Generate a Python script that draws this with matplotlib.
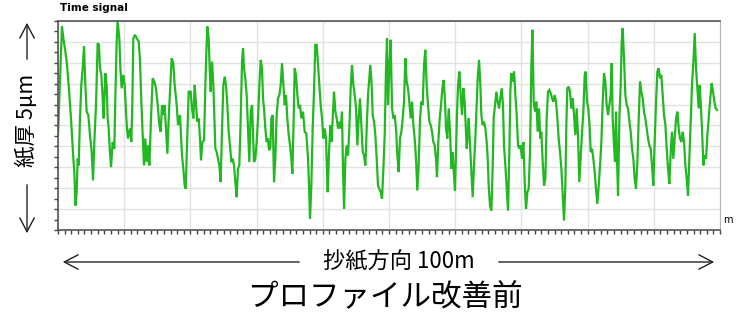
import numpy as np
import matplotlib
matplotlib.use("Agg")
import matplotlib.pyplot as plt
from matplotlib.patches import FancyArrowPatch
from matplotlib.ticker import MultipleLocator, NullFormatter

plt.rcParams['font.family'] = ['Noto Sans CJK JP', 'DejaVu Sans']

# paper thickness profile (0..10 = full 5um scale), distance in m
distance_m = [
    0.0, 0.6, 0.81, 1.11, 1.31, 1.61, 1.96, 2.32, 2.47, 2.62, 2.82, 2.97, 3.12, 3.32, 3.52, 3.73,
    3.93, 4.13, 4.33, 4.58, 4.83, 5.09, 5.29, 5.49, 5.74, 5.99, 6.19, 6.34, 6.55, 6.75, 6.90, 7.15,
    7.35, 7.50, 7.65, 7.85, 8.01, 8.26, 8.51, 8.66, 8.86, 9.01, 9.26, 9.42, 9.62, 9.87, 10.07, 10.27,
    10.42, 10.57, 10.88, 11.08, 11.23, 11.38, 11.63, 11.88, 12.19, 12.39, 12.59, 12.79, 12.99, 13.19,
    13.39, 13.60, 13.80, 14.05, 14.30, 14.55, 14.80, 15.06, 15.31, 15.51, 15.71, 15.91, 16.11, 16.31,
    16.52, 16.72, 16.92, 17.17, 17.42, 17.62, 17.93, 18.13, 18.43, 18.73, 18.93, 19.13, 19.29, 19.49,
    19.74,
    20.04, 20.24, 20.45, 20.65, 20.85, 21.05, 21.25, 21.45, 21.60, 21.81, 22.06, 22.26, 22.41, 22.56,
    22.76, 22.91, 23.06, 23.27, 23.47, 23.62, 23.77, 23.97, 24.17, 24.37, 24.57, 24.78, 24.98, 25.18,
    25.38, 25.58, 25.78, 25.98, 26.19, 26.39, 26.59, 26.79, 26.99, 27.19, 27.39, 27.60, 27.80, 27.95,
    28.10, 28.30, 28.50, 28.70, 28.90, 29.11, 29.31, 29.46, 29.61, 29.81, 30.01, 30.21, 30.42, 30.62,
    30.82, 30.97, 31.12, 31.32, 31.52, 31.72, 31.88, 32.08, 32.23, 32.43, 32.63, 32.83, 33.03, 33.24,
    33.44, 33.64, 33.84, 34.04, 34.24, 34.44, 34.64, 34.85, 35.05, 35.25, 35.40, 35.60, 35.75, 35.95,
    36.16, 36.36, 36.56, 36.76, 37.01, 37.26, 37.51, 37.77, 37.92, 38.07, 38.27, 38.47, 38.67, 38.87,
    39.08, 39.28, 39.48, 39.68,
    39.88, 40.08, 40.28, 40.49, 40.59, 40.74, 40.94, 41.14, 41.34, 41.49, 41.69, 41.90, 42.10, 42.30,
    42.50, 42.70, 42.90, 43.05, 43.21, 43.41, 43.61, 43.81, 44.01, 44.21, 44.41, 44.62, 44.82, 45.02,
    45.22, 45.42, 45.62, 45.82, 46.03, 46.23, 46.43, 46.63, 46.83, 47.03, 47.18, 47.38, 47.54, 47.74,
    47.94, 48.14, 48.34, 48.54, 48.74, 48.95, 49.15, 49.35, 49.55, 49.70, 49.85, 50.05, 50.25, 50.46,
    50.66, 50.86, 51.06, 51.26, 51.46, 51.66, 51.87, 52.07, 52.27, 52.47, 52.67, 52.87, 53.07, 53.28,
    53.48, 53.68, 53.88, 54.08, 54.28, 54.48, 54.69, 54.89, 55.09, 55.29, 55.49, 55.69, 55.89, 56.10,
    56.30, 56.50, 56.70, 56.90, 57.10, 57.25, 57.45, 57.66, 57.86, 58.06, 58.26, 58.46, 58.61, 58.81,
    59.02, 59.22, 59.42, 59.62,
    59.82, 59.97, 60.12, 60.28, 60.43, 60.63, 60.83, 61.03, 61.23, 61.43, 61.58, 61.74, 61.89, 62.04,
    62.24, 62.44, 62.64, 62.84, 63.04, 63.20, 63.40, 63.60, 63.80, 63.95, 64.15, 64.35, 64.56, 64.76,
    64.91, 65.06, 65.26, 65.46, 65.66, 65.81, 66.02, 66.22, 66.42, 66.62, 66.82, 67.02, 67.22, 67.37,
    67.58, 67.78, 67.98, 68.18, 68.33, 68.48, 68.68, 68.89, 69.09, 69.29, 69.49, 69.69, 69.89, 70.09,
    70.30, 70.50, 70.70, 70.90, 71.10, 71.30, 71.50, 71.66, 71.86, 72.06, 72.26, 72.46, 72.66, 72.86,
    73.01, 73.22, 73.42, 73.62, 73.82, 74.02, 74.22, 74.42, 74.63, 74.83, 75.03, 75.23, 75.43, 75.63,
    75.83, 76.04, 76.24, 76.44, 76.64, 76.79, 76.94, 77.14, 77.34, 77.55, 77.75, 77.95, 78.15, 78.35,
    78.55, 78.75, 78.96, 79.16, 79.36, 79.56,
    79.71, 79.91, 80.11, 80.32, 80.47, 80.67, 80.87, 81.07, 81.27, 81.47, 81.68, 81.88, 82.08, 82.28,
    82.48, 82.68, 82.88, 83.09, 83.29, 83.49, 83.64, 83.79, 83.99, 84.14, 84.29, 84.44, 84.60, 84.80,
    85.00, 85.15, 85.30, 85.50, 85.70, 85.91, 86.11, 86.31, 86.51, 86.71, 86.91, 87.11, 87.31, 87.52,
    87.72, 87.92, 88.12, 88.32, 88.52, 88.72, 88.93, 89.13, 89.33, 89.53, 89.73, 89.93, 90.13, 90.34,
    90.54, 90.74, 90.94, 91.14, 91.34, 91.54, 91.75, 91.95, 92.15, 92.35, 92.55, 92.75, 92.95, 93.16,
    93.36, 93.56, 93.76, 93.96, 94.16, 94.36, 94.57, 94.77, 94.97, 95.17, 95.37, 95.57, 95.77, 95.98,
    96.18, 96.38, 96.58, 96.78, 96.93, 97.08, 97.28, 97.49, 97.69, 97.89, 98.09, 98.29, 98.49, 98.74,
    98.95, 99.15, 99.35, 99.55,
]

thickness = [
    4.54, 9.74, 9.18, 8.54, 8.06, 6.94, 5.34, 3.41, 2.77, 1.17, 1.81, 3.41, 3.09, 5.34, 6.94, 7.74,
    8.78, 6.94, 5.66, 5.50, 4.54, 3.73, 2.37, 4.21, 5.98, 8.94, 8.86, 7.74, 7.42, 6.30, 5.34, 7.50,
    6.94, 5.34, 4.86, 3.73, 3.01, 4.21, 3.89, 6.30, 9.02, 9.98, 9.18, 7.74, 6.78, 7.42, 6.94, 5.66,
    4.86, 4.38, 4.86, 4.21, 6.14, 9.18, 9.34, 9.18, 9.02, 8.06, 6.14, 4.54, 3.09, 4.38,
    3.25, 4.05, 3.09, 5.34, 7.26, 7.10, 6.78, 5.98, 5.02, 4.70, 5.98, 5.50, 5.98, 4.86,
    3.65, 5.34, 6.62, 8.22, 7.98, 6.94, 5.98, 5.02, 5.50, 3.57, 2.93, 2.13, 1.97, 4.05,
    6.62,
    6.62, 5.82, 5.34, 6.94, 5.98, 5.18, 5.34, 4.38, 3.33, 4.21, 4.29, 6.94, 8.54, 9.74,
    9.18, 7.74, 6.62, 8.06, 6.94, 5.34, 3.89, 3.73, 3.41, 3.09, 2.29, 4.86, 6.94, 7.34,
    6.94, 5.98, 4.70, 4.05, 3.25, 3.41, 3.09, 2.29, 1.57, 2.93, 3.09, 5.34, 8.06, 8.70,
    7.74, 7.26, 6.46, 4.86, 3.25, 5.66, 5.98, 4.54, 3.25, 3.41, 4.21, 5.34, 6.94, 8.14,
    7.74, 6.30, 5.82, 4.86, 4.21, 4.38, 3.81, 3.97, 5.34, 5.50, 2.29, 3.41, 5.50, 6.30,
    6.46, 6.94, 7.98, 6.94, 5.98, 6.46, 5.34, 4.54, 4.05, 3.41, 2.69, 5.34, 7.74, 7.42,
    6.46, 5.82, 5.98, 5.34, 5.66, 4.70, 4.62, 3.41, 2.13, 0.53, 2.13, 4.86, 6.62, 8.86,
    8.86, 7.90, 6.94, 5.98,
    5.34, 4.38, 4.86, 4.38, 3.25, 1.81, 3.73, 5.02, 4.21, 5.34, 6.62, 5.66, 5.34, 4.86,
    5.18, 4.86, 5.66, 2.93, 1.01, 3.41, 4.05, 3.57, 4.86, 6.78, 7.90, 6.94, 6.46, 5.82,
    4.05, 5.34, 6.30, 5.02, 3.73, 3.57, 3.09, 4.86, 6.46, 7.26, 7.90, 6.94, 5.50, 5.18,
    4.54, 3.41, 2.13, 1.97, 1.81, 1.49, 2.93, 4.54, 7.74, 9.18, 5.98, 7.74, 9.10, 5.82,
    5.34, 5.50, 4.86, 3.57, 2.77, 4.38, 4.70, 5.34, 6.14, 8.22, 7.10, 6.78, 6.14, 5.34,
    6.14, 5.02, 4.38, 3.41, 1.89, 3.09, 5.34, 6.14, 5.98, 7.90, 8.62, 6.94, 5.98, 5.18,
    5.02, 4.70, 4.21, 4.05, 3.41, 2.53, 4.21, 5.34, 5.98, 6.78, 7.18, 6.14, 4.86, 4.38,
    5.82, 4.70, 2.93, 3.73,
    2.61, 1.89, 3.73, 5.66, 6.94, 7.58, 6.46, 5.50, 6.78, 6.14, 5.02, 3.89, 4.54, 5.34,
    4.05, 2.77, 1.57, 3.09, 4.38, 5.66, 7.26, 8.14, 6.94, 5.50, 5.02, 5.18, 4.86, 4.21,
    3.41, 2.13, 1.17, 0.93, 2.93, 5.34, 5.98, 6.62, 6.14, 5.82, 6.30, 6.78, 5.98, 4.05,
    3.09, 1.97, 0.93, 3.73, 6.62, 7.50, 7.10, 7.58, 6.46, 5.50, 4.05, 3.89, 4.05, 3.41,
    4.21, 2.29, 1.01, 1.81, 1.97, 3.73, 7.74, 9.58, 6.14, 5.66, 6.14, 4.70, 5.82, 4.38,
    4.70, 3.25, 2.13, 2.45, 5.34, 6.62, 6.70, 6.54, 6.30, 6.14, 6.46, 6.14, 5.34, 4.38,
    3.73, 2.93, 1.65, 0.45, 2.13, 5.02, 6.78, 6.86, 6.62, 5.82, 6.30, 5.50, 4.54, 5.82,
    4.54, 2.29, 3.57, 4.70, 5.66, 7.42,
    7.58, 6.14, 5.82, 4.86, 3.73, 3.89, 3.41, 2.77, 1.97, 1.25, 2.13, 3.09, 4.21, 6.14,
    7.50, 7.10, 5.98, 5.50, 5.98, 6.46, 7.98, 5.34, 4.05, 3.25, 5.66, 3.41, 1.65, 5.34,
    6.94, 9.02, 9.66, 8.22, 6.46, 5.98, 5.82, 5.18, 4.70, 3.89, 3.41, 2.45, 1.97, 3.25,
    5.34, 7.10, 6.62, 6.30, 5.66, 5.34, 4.86, 4.38, 4.05, 3.89, 3.09, 2.13, 4.21, 6.14,
    7.58, 7.74, 7.26, 7.42, 6.46, 5.50, 5.02, 3.89, 2.93, 2.21, 3.73, 4.70, 3.41, 4.38,
    5.34, 5.66, 4.86, 4.38, 4.21, 4.70, 4.21, 3.09, 2.45, 1.65, 3.41, 5.18, 6.94, 8.06,
    9.42, 7.74, 6.78, 5.82, 6.94, 6.14, 4.86, 3.09, 3.57, 3.41, 4.54, 5.34, 6.14, 7.02,
    6.62, 6.14, 5.82, 5.74,
]

W, H = 739, 327
fig = plt.figure(figsize=(W / 100, H / 100), dpi=100)
ax = fig.add_axes([58 / W, 1 - 230 / H, 662 / W, 209 / H])

ax.plot(distance_m, thickness, color='#22b822', lw=1.6, solid_joinstyle='miter')
ax.set_xlim(0, 100)
ax.set_ylim(0, 10)

ax.xaxis.set_major_locator(MultipleLocator(10))
ax.xaxis.set_minor_locator(MultipleLocator(1))
ax.yaxis.set_major_locator(MultipleLocator(1))
ax.yaxis.set_minor_locator(MultipleLocator(0.5))
for axis in (ax.xaxis, ax.yaxis):
    axis.set_major_formatter(NullFormatter())
    axis.set_minor_formatter(NullFormatter())
ax.tick_params(which='both', direction='out', length=3, width=1, color='#444444')
ax.grid(which='major', color='#e2e2e2', lw=1)
ax.set_axisbelow(True)

for side in ('top', 'left', 'bottom'):
    ax.spines[side].set_color('#555555')
    ax.spines[side].set_linewidth(1.2)
ax.spines['right'].set_color('#b4b4b4')

fig.text(60 / W, 1 - 8 / H, 'Time signal', fontsize=7.5, fontweight='bold',
         family='DejaVu Sans', va='center', ha='left')
fig.text(723 / W, 1 - 220 / H, 'm', fontsize=7, family='DejaVu Sans', va='center', ha='left')


def arrow(x0, y0, x1, y1):
    fig.add_artist(FancyArrowPatch((x0 / W, 1 - y0 / H), (x1 / W, 1 - y1 / H),
                                   transform=fig.transFigure,
                                   arrowstyle='->,head_length=0.5,head_width=0.26',
                                   mutation_scale=20, lw=1, color='#222222'))


# left side label
arrow(27, 62, 27, 20)
arrow(27, 182, 27, 236)
fig.text(27 / W, 1 - 120 / H, '紙厚 5μm', rotation=90, fontsize=15.5, va='center', ha='center')

# bottom label
arrow(302, 262, 60, 262)
arrow(496, 262, 717, 262)
fig.text(399 / W, 1 - 262 / H, '抄紙方向 100m', fontsize=16, va='center', ha='center')

fig.text(385 / W, 1 - 298 / H, 'プロファイル改善前', fontsize=22, va='center', ha='center')

fig.savefig('out.png', dpi=100)
